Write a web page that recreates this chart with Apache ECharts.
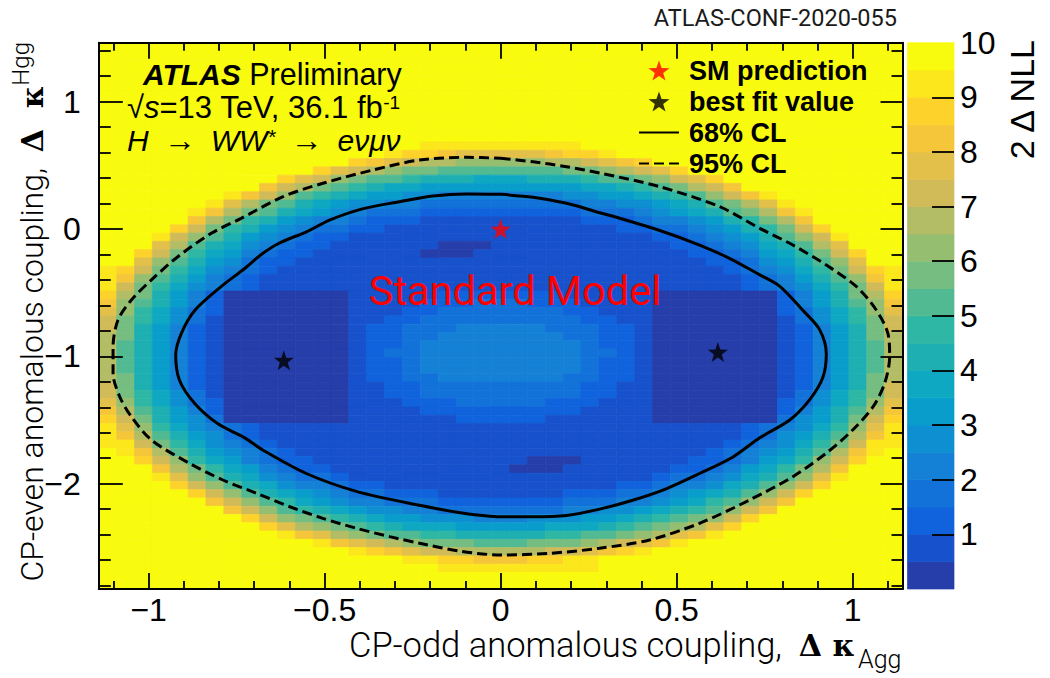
<!DOCTYPE html>
<html>
<head>
<meta charset="utf-8">
<script src="https://cdn.jsdelivr.net/npm/echarts@6/dist/echarts.min.js"></script>
<style>
html, body { margin: 0; padding: 0; background: #fff; }
#chart { width: 1050px; height: 678px; }
</style>
</head>
<body>
<div id="chart"></div>
<script>
// Axis extents of the binned likelihood scan
const kAggRange = [-1.1415, 1.1415];
const kHggRange = [-2.827, 1.463];

// Tick positions and labels
const xMajorTicks = [-1, -0.5, 0, 0.5, 1];
const xMinorTicks = [-1.1, -0.9, -0.8, -0.7, -0.6, -0.4, -0.3, -0.2, -0.1, 0.1, 0.2, 0.3, 0.4, 0.6, 0.7, 0.8, 0.9, 1.1];
const yMajorTicks = [-2, -1, 0, 1];
const yMinorTicks = [-2.8, -2.6, -2.4, -2.2, -1.8, -1.6, -1.4, -1.2, -0.8, -0.6, -0.4, -0.2, 0.2, 0.4, 0.6, 0.8, 1.2, 1.4];
const zTickValues = [1, 2, 3, 4, 5, 6, 7, 8, 9];
const zLabelValues = [1, 2, 3, 4, 5, 6, 7, 8, 9, 10];

// 2ΔNLL per bin. One string per kappa_Hgg row (top row first), one character per
// kappa_Agg bin (left to right). '0'-'9','a'-'j' = 2ΔNLL band [0,0.5), [0.5,1) ... [9.5,10].
const nllRows = [
  'jjjjjjjjjjjjjjjjjjjjjjjjjjjjjjjjjjjjjjjjjjjjj',
  'jjjjjjjjjjjjjjjjjjjjjjjjjjjjjjjjjjjjjjjjjjjjj',
  'jjjjjjjjjjjjjjjjjjjjjjjjjjjjjjjjjjjjjjjjjjjjj',
  'jjjjjjjjjjjjjjjjjjjjjjjjjjjjjjjjjjjjjjjjjjjjj',
  'jjjjjjjjjjjjjjjjjjjjjjjjjjjjjjjjjjjjjjjjjjjjj',
  'jjjjjjjjjjjjjjjjjjjjjjjjjjjjjjjjjjjjjjjjjjjjj',
  'jjjjjjjjjjjjjjjjjjjjjjjjjjjjjjjjjjjjjjjjjjjjj',
  'jjjjjjjjjjjjjjjjjjjjjjjjjjjjjjjjjjjjjjjjjjjjj',
  'jjjjjjjjjjjjjjjjjjjjjjjjjjjjjjjjjjjjjjjjjjjjj',
  'jjjjjjjjjjjjjjjjjjjjjjjjjjjjjjjjjjjjjjjjjjjjj',
  'jjjjjjjjjjjjjjjjjjjjjjjjjjjjjjjjjjjjjjjjjjjjj',
  'jjjjjjjjjjjjjjjjjjjjjjjjjjjjjjjjjjjjjjjjjjjjj',
  'jjjjjjjjjjjjjjjjjjiiiiiiiiijjjjjjjjjjjjjjjjjj',
  'jjjjjjjjjjjjjjjjihhgfffffghhijjjjjjjjjjjjjjjj',
  'jjjjjjjjjjjjjjhgfeddcccccddefghjjjjjjjjjjjjjj',
  'jjjjjjjjjjjjhfedcbbaaaaaaabbcdefhjjjjjjjjjjjj',
  'jjjjjjjjjjhfecbaa98887778889aabcefhjjjjjjjjjj',
  'jjjjjjjjjgedba98776666666667789abdegjjjjjjjjj',
  'jjjjjjjigeca987665544444445566789acegijjjjjjj',
  'jjjjjjifdba87655443333333334455678abdfijjjjjj',
  'jjjjjigdba8765433322222222233345678abdgijjjjj',
  'jjjjjgdb98654432221111111112223445689bdgjjjjj',
  'jjjjheb9865433221111111111111223345689behjjjj',
  'jjjieca8654322111111111111111112234568aceijjj',
  'jjjfda875432211111100011111111112234578adfjjj',
  'jjheb97643221111110001111111111112234679behjj',
  'jjfca86532211111111111111111111111223568acfjj',
  'iheb9754321111111111111111111111111234579behi',
  'igca8643211111111111111111111111111123468acgi',
  'ieb975432111111111111111111111111111234579bei',
  'hdb864200000001111122222221111100000002468bdh',
  'gca864200000001111222333222111100000002468acg',
  'fc97532000000011122333333322111000000023579cf',
  'eb97531000000011223333333332211000000013579be',
  'eb86421000000012233344444333221000000012468be',
  'db86421000000012233444444433221000000012468bd',
  'da86421000000012234444444443221000000012468ad',
  'da86421000000012334444444443321000000012468ad',
  'da86421000000012234444444443221000000012468ad',
  'da86421000000012234444444443221000000012468ad',
  'db86421000000012233444444433221000000012468bd',
  'eb86421000000011223333333332211000000012468be',
  'eb97531000000011223333333332211000000013579be',
  'fc97532000000011122233333222111000000023579cf',
  'gda864200000001111222222222111100000002468adg',
  'heb865300000001111112222211111100000003568beh',
  'ifc975432111111111111111111111111111234579cfi',
  'igda8653211111111111111111111111111123568adgi',
  'iieb9754321111111111111111111111111234579beii',
  'jigda86543211111111111111111111111234568adgij',
  'jjhec97643221111111111110001111112234679cehjj',
  'jjjgdb976432211111111110001111112234679bdgjjj',
  'jjjifca8754332111111111111111112334578acfijjj',
  'jjjjheca87544322111111111111122344578acehjjjj',
  'jjjjjheca876543322211111112223345678acehjjjjj',
  'jjjjjjgeca9765443332222222333445679acegjjjjjj',
  'jjjjjjjgeca98765544333333344556789acegjjjjjjj',
  'jjjjjjjjhecba9876655544455566789abcehjjjjjjjj',
  'jjjjjjjjjhfdcba987776666677789abcdfhjjjjjjjjj',
  'jjjjjjjjjjigfdcbaa998888899aabcdfgijjjjjjjjjj',
  'jjjjjjjjjjjjigfedcbbbaaabbbcdefgijjjjjjjjjjjj',
  'jjjjjjjjjjjjjjihgfeedddddeefghijjjjjjjjjjjjjj',
  'jjjjjjjjjjjjjjjjjiihhggghhiijjjjjjjjjjjjjjjjj',
  'jjjjjjjjjjjjjjjjjjjiiiiiiiiijjjjjjjjjjjjjjjjj',
  'jjjjjjjjjjjjjjjjjjjjjjjjjjjjjjjjjjjjjjjjjjjjj',
  'jjjjjjjjjjjjjjjjjjjjjjjjjjjjjjjjjjjjjjjjjjjjj'
];

// Marked points
const smPoint = [[0, 0]];
const bestFitPoints = [[-0.616, -1.03], [0.617, -0.966]];

// 68% CL contour (2ΔNLL = 2.30)
const cl68 = [
  [0, 0.272], [0.092, 0.249], [0.187, 0.202], [0.281, 0.128], [0.338, 0.084], [0.45, -0.01],
  [0.565, -0.126], [0.65, -0.23], [0.736, -0.36], [0.793, -0.45], [0.859, -0.64], [0.906, -0.79],
  [0.925, -0.98], [0.916, -1.16], [0.878, -1.34], [0.821, -1.5], [0.736, -1.64], [0.66, -1.79],
  [0.565, -1.92], [0.47, -2.04], [0.375, -2.13], [0.281, -2.2], [0.187, -2.25], [0.09, -2.26],
  [0, -2.26], [-0.11, -2.23], [-0.23, -2.17], [-0.41, -2.06], [-0.552, -1.92], [-0.676, -1.735],
  [-0.727, -1.64], [-0.803, -1.53], [-0.869, -1.37], [-0.912, -1.19], [-0.923, -0.99], [-0.907, -0.82],
  [-0.869, -0.64], [-0.793, -0.45], [-0.727, -0.31], [-0.68, -0.2], [-0.628, -0.11], [-0.55, -0.02],
  [-0.486, 0.07], [-0.39, 0.16], [-0.287, 0.214], [-0.192, 0.259], [-0.097, 0.275], [0, 0.272]
];

// 95% CL contour (2ΔNLL = 5.99)
const cl95 = [
  [0, 0.555], [0.092, 0.528], [0.187, 0.489], [0.281, 0.44], [0.452, 0.332], [0.622, 0.175],
  [0.736, 0.005], [0.83, -0.126], [0.925, -0.283], [1.011, -0.453], [1.067, -0.636], [1.1, -0.82],
  [1.105, -1.003], [1.091, -1.21], [1.058, -1.395], [1.0, -1.578], [0.925, -1.76], [0.83, -1.945],
  [0.707, -2.128], [0.565, -2.311], [0.423, -2.442], [0.281, -2.507], [0.139, -2.547], [0, -2.56],
  [-0.115, -2.53], [-0.23, -2.468], [-0.315, -2.416], [-0.41, -2.35], [-0.505, -2.272], [-0.599, -2.181],
  [-0.694, -2.075], [-0.789, -1.971], [-0.884, -1.84], [-0.992, -1.657], [-1.049, -1.474], [-1.082, -1.317],
  [-1.101, -1.133], [-1.101, -0.924], [-1.087, -0.715], [-1.049, -0.558], [-0.992, -0.4], [-0.917, -0.218],
  [-0.822, -0.034], [-0.737, 0.084], [-0.618, 0.254], [-0.505, 0.359], [-0.363, 0.463], [-0.23, 0.542],
  [-0.097, 0.563], [0, 0.555]
];

// Colour bands of the z scale (bird palette, 20 contours between 0 and 10)
const palette = [
  '#263eaa', '#1752cc', '#1063dc', '#1272d9', '#1481d6', '#0e8fd1', '#099dcc', '#0ea8c2', '#1eafb3', '#2eb7a4',
  '#52ba92', '#75bd80', '#96be71', '#b3bd65', '#d1bb59', '#e3c04a', '#f5c63a', '#fdd32b', '#fbe71c', '#f9fb0e'
];
const bandCodes = '0123456789abcdefghij';
const zRange = [0, 10];

// ---- build series data ----
const nX = nllRows[0].length;
const nY = nllRows.length;
const binW = (kAggRange[1] - kAggRange[0]) / nX;
const binH = (kHggRange[1] - kHggRange[0]) / nY;
const cells = [];
nllRows.forEach((row, r) => {
  for (let c = 0; c < row.length; c++) {
    const band = bandCodes.indexOf(row[c]);
    cells.push([
      kAggRange[0] + (c + 0.5) * binW,
      kHggRange[1] - (r + 0.5) * binH,
      (band + 0.5) * 0.5
    ]);
  }
});
const bandH = (zRange[1] - zRange[0]) / palette.length;
const scaleCells = palette.map((_, i) => [0.5, (i + 0.5) * bandH, (i + 0.5) * bandH]);

function binRect(w, h) {
  return function (params, api) {
    const x = api.value(0), y = api.value(1);
    const p0 = api.coord([x - w / 2, y + h / 2]);
    const p1 = api.coord([x + w / 2, y - h / 2]);
    const color = api.visual('color');
    return {
      type: 'rect',
      shape: { x: p0[0], y: p0[1], width: p1[0] - p0[0], height: p1[1] - p0[1] },
      style: { fill: color, stroke: color, lineWidth: 0.7 }
    };
  };
}

const SANS = "'Liberation Sans', Helvetica, Arial, sans-serif";
const ROBOTO = "Roboto, 'Liberation Sans', sans-serif";
const SERIF = "'DejaVu Serif', 'Liberation Serif', serif";
const starPath = 'path://M0,-10L2.35,-3.24L9.51,-3.09L3.8,1.24L5.88,8.09L0,4L-5.88,8.09L-3.8,1.24L-9.51,-3.09L-2.35,-3.24Z';

const minus = v => (v < 0 ? '\u2212' + String(-v) : String(v));
const frameLine = { show: true, onZero: false, lineStyle: { color: '#000', width: 2 } };
const tickStyle = { color: '#000', width: 1.8 };

function valueAxis(extra) {
  return Object.assign({
    type: 'value', gridIndex: 0, z: 10, scale: true,
    splitLine: { show: false }, axisLine: { show: false, onZero: false },
    axisLabel: { show: false }, axisTick: { show: false }
  }, extra);
}

const xAxes = [
  valueAxis({ position: 'bottom', min: kAggRange[0], max: kAggRange[1], axisLine: frameLine,
    axisTick: { show: true, inside: true, length: 16, lineStyle: tickStyle, customValues: xMajorTicks },
    axisLabel: { show: true, customValues: xMajorTicks, formatter: minus, margin: 8, lineHeight: 26,
      color: '#000', fontFamily: SANS, fontSize: 32 } }),
  valueAxis({ position: 'bottom', min: kAggRange[0], max: kAggRange[1],
    axisTick: { show: true, inside: true, length: 8, lineStyle: tickStyle, customValues: xMinorTicks } }),
  valueAxis({ position: 'top', min: kAggRange[0], max: kAggRange[1], axisLine: frameLine,
    axisTick: { show: true, inside: true, length: 16, lineStyle: tickStyle, customValues: xMajorTicks } }),
  valueAxis({ position: 'top', min: kAggRange[0], max: kAggRange[1],
    axisTick: { show: true, inside: true, length: 8, lineStyle: tickStyle, customValues: xMinorTicks } }),
  valueAxis({ gridIndex: 1, position: 'bottom', min: 0, max: 1, show: false })
];

const yAxes = [
  valueAxis({ position: 'left', min: kHggRange[0], max: kHggRange[1], axisLine: frameLine,
    axisTick: { show: true, inside: true, length: 24, lineStyle: tickStyle, customValues: yMajorTicks },
    axisLabel: { show: true, customValues: yMajorTicks, formatter: minus, margin: 18,
      color: '#000', fontFamily: SANS, fontSize: 32 } }),
  valueAxis({ position: 'left', min: kHggRange[0], max: kHggRange[1],
    axisTick: { show: true, inside: true, length: 12, lineStyle: tickStyle, customValues: yMinorTicks } }),
  valueAxis({ position: 'right', min: kHggRange[0], max: kHggRange[1], axisLine: frameLine,
    axisTick: { show: true, inside: true, length: 22, lineStyle: tickStyle, customValues: yMajorTicks } }),
  valueAxis({ position: 'right', min: kHggRange[0], max: kHggRange[1],
    axisTick: { show: true, inside: true, length: 11, lineStyle: tickStyle, customValues: yMinorTicks } }),
  valueAxis({ gridIndex: 1, position: 'right', min: zRange[0], max: zRange[1],
    axisTick: { show: true, inside: true, length: 22, lineStyle: tickStyle, customValues: zTickValues },
    axisLabel: { show: true, customValues: zLabelValues, margin: 6, color: '#000', fontFamily: SANS, fontSize: 32 } })
];

const chart = echarts.init(document.getElementById('chart'), null, { renderer: 'svg' });

chart.setOption({
  animation: false,
  backgroundColor: '#fff',
  textStyle: { fontFamily: SANS },
  grid: [
    { left: 98.8, top: 42.7, width: 803.7, height: 546.3, outerBoundsMode: 'none', containLabel: false },
    { left: 907.5, top: 42.7, width: 46.5, height: 546.3, outerBoundsMode: 'none', containLabel: false }
  ],
  xAxis: xAxes,
  yAxis: yAxes,
  visualMap: {
    type: 'piecewise', show: false, dimension: 2, seriesIndex: [0, 1],
    pieces: palette.map((c, i) => ({ gte: i * bandH, lt: (i + 1) * bandH, color: c }))
  },
  legend: {
    orient: 'vertical', left: 633, top: 52, itemWidth: 40, itemHeight: 20, itemGap: 4,
    selectedMode: false,
    textStyle: { fontFamily: SANS, fontWeight: 'bold', fontSize: 27, color: '#000', padding: [0, 0, 0, 5] },
    data: ['SM prediction', 'best fit value', '68% CL', '95% CL']
  },
  series: [
    {
      name: '2ΔNLL', type: 'custom', xAxisIndex: 0, yAxisIndex: 0, z: 1, silent: true,
      renderItem: binRect(binW, binH), encode: { x: 0, y: 1 }, data: cells
    },
    {
      name: 'scale', type: 'custom', xAxisIndex: 4, yAxisIndex: 4, z: 1, silent: true,
      renderItem: binRect(1, bandH), encode: { x: 0, y: 1 }, data: scaleCells
    },
    {
      name: '68% CL', type: 'line', xAxisIndex: 0, yAxisIndex: 0, z: 5, silent: true,
      data: cl68, symbol: 'none', smooth: 0.3,
      lineStyle: { color: '#000', width: 3 }, itemStyle: { color: 'rgba(0,0,0,0)' }
    },
    {
      name: '95% CL', type: 'line', xAxisIndex: 0, yAxisIndex: 0, z: 5, silent: true,
      data: cl95, symbol: 'none', smooth: 0.3,
      lineStyle: { color: '#000', width: 3, type: [10, 5] }, itemStyle: { color: 'rgba(0,0,0,0)' }
    },
    {
      name: 'SM prediction', type: 'scatter', xAxisIndex: 0, yAxisIndex: 0, z: 6, silent: true,
      data: smPoint, symbol: starPath, symbolSize: 20, itemStyle: { color: '#ff0000' }
    },
    {
      name: 'best fit value', type: 'scatter', xAxisIndex: 0, yAxisIndex: 0, z: 6, silent: true,
      data: bestFitPoints, symbol: starPath, symbolSize: 20, itemStyle: { color: '#000' }
    }
  ],
  graphic: [
    { type: 'text', x: 897, y: 18, z: 100, silent: true,
      style: { text: 'ATLAS-CONF-2020-055', fill: '#1a1a1a', fontFamily: ROBOTO, fontSize: 23.5,
        align: 'right', verticalAlign: 'middle' } },
    { type: 'text', x: 143, y: 74, z: 100, silent: true,
      style: { text: '{b|ATLAS}{r| Preliminary}', fill: '#000', align: 'left', verticalAlign: 'middle',
        rich: {
          b: { fontFamily: SANS, fontSize: 30, lineHeight: 28, fontWeight: 'bold', fontStyle: 'italic', fill: '#000' },
          r: { fontFamily: SANS, fontSize: 30.5, lineHeight: 28, fill: '#000' }
        } } },
    { type: 'text', x: 127, y: 107, z: 100, silent: true,
      style: { text: '{r|\u221A}{i|s}{r|=13 TeV, 36.1 fb}{sup|-1}', fill: '#000', align: 'left', verticalAlign: 'middle',
        rich: {
          r: { fontFamily: SANS, fontSize: 31, lineHeight: 28, fill: '#000' },
          i: { fontFamily: SANS, fontSize: 31, lineHeight: 28, fontStyle: 'italic', fill: '#000' },
          sup: { fontFamily: SANS, fontSize: 19, lineHeight: 28, verticalAlign: 'top', fill: '#000' }
        } } },
    { type: 'text', x: 127, y: 140, z: 100, silent: true,
      style: { text: '{i|H}{r|\u2192}{i|WW}{sup|*}{r|\u2192}{i|e\u03BD\u03BC\u03BD}', fill: '#000', align: 'left', verticalAlign: 'middle',
        rich: {
          r: { fontFamily: SANS, fontSize: 32, lineHeight: 28, padding: [0, 15, 0, 15], fill: '#000' },
          i: { fontFamily: SANS, fontSize: 30, lineHeight: 28, fontStyle: 'italic', fill: '#000' },
          sup: { fontFamily: SANS, fontSize: 21, lineHeight: 28, fontStyle: 'italic', verticalAlign: 'top', fill: '#000' }
        } } },
    { type: 'text', x: 515, y: 290, z: 100, silent: true,
      style: { text: 'Standard Model', fill: '#ff0000', fontFamily: ROBOTO, fontSize: 41.5,
        align: 'center', verticalAlign: 'middle' } },
    { type: 'text', x: 855, y: 645, z: 100, silent: true,
      style: { text: '{a|CP-odd anomalous coupling,  }{g|\u0394 \u03BA}', fill: '#000',
        align: 'right', verticalAlign: 'middle',
        rich: {
          a: { fontFamily: ROBOTO, fontWeight: 300, fontSize: 34.5, lineHeight: 28, fill: '#000' },
          g: { fontFamily: SERIF, fontWeight: 'bold', fontSize: 30, lineHeight: 28, fill: '#000' }
        } } },
    { type: 'text', x: 858, y: 659, z: 100, silent: true,
      style: { text: 'Agg', fill: '#000', fontFamily: ROBOTO, fontWeight: 300, fontSize: 25, lineHeight: 22,
        align: 'left', verticalAlign: 'middle' } },
    { type: 'text', x: 32, y: 42, z: 100, silent: true, rotation: Math.PI / 2,
      style: { text: '{a|CP-even anomalous coupling,  }{g|\u0394  \u03BA}{s|Hgg}', fill: '#000',
        align: 'right', verticalAlign: 'middle',
        rich: {
          a: { fontFamily: ROBOTO, fontWeight: 300, fontSize: 32, lineHeight: 46, fill: '#000' },
          g: { fontFamily: SERIF, fontWeight: 'bold', fontSize: 30, lineHeight: 46, fill: '#000' },
          s: { fontFamily: ROBOTO, fontWeight: 300, fontSize: 24, lineHeight: 46, verticalAlign: 'top', fill: '#000' }
        } } },
    { type: 'text', x: 1022, y: 40, z: 100, silent: true, rotation: Math.PI / 2,
      style: { text: '2 \u0394 NLL', fill: '#000', fontFamily: SANS, fontSize: 34,
        align: 'right', verticalAlign: 'middle' } }
  ]
});

const badRows = nllRows.map((r, i) => [i, r.length]).filter(d => d[1] !== 45);
if (badRows.length) {
  setTimeout(() => { throw new Error('row length mismatch: ' + JSON.stringify(badRows)); }, 0);
}
</script>
</body>
</html>
